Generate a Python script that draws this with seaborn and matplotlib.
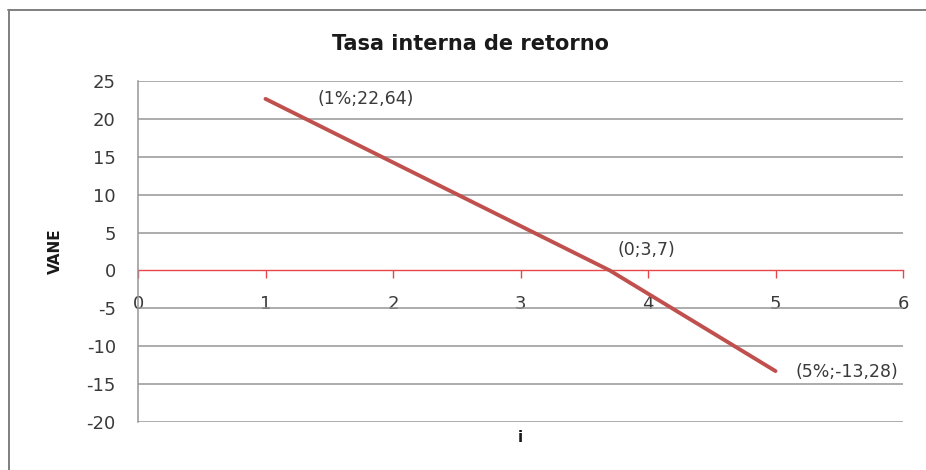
import matplotlib
matplotlib.use("Agg")
import matplotlib.pyplot as plt
from matplotlib.lines import Line2D
import seaborn as sns
import pandas as pd

# Tasa de interés (%) y valor actual neto (VANE)
tasas = [1, 3.7, 5]
vane = [22.64, 0, -13.28]
etiquetas = ["(1%;22,64)", "(0;3,7)", "(5%;-13,28)"]
x_ticks = [0, 1, 2, 3, 4, 5, 6]
y_ticks = [-20, -15, -10, -5, 0, 5, 10, 15, 20, 25]

df = pd.DataFrame({"i": tasas, "VANE": vane})

sns.set_theme(style="white")
plt.rcParams["font.family"] = ["DejaVu Sans"]

fig = plt.figure(figsize=(9.26, 4.70), dpi=100)
ax = fig.add_axes([138 / 926, 1 - 422 / 470, (903 - 138) / 926, (422 - 81) / 470])

grid_c = "#969696"
text_c = "#3a3a3a"
for yv in y_ticks:
    if yv != 0:
        ax.axhline(yv, color=grid_c, lw=1.1, zorder=1)

sns.lineplot(data=df, x="i", y="VANE", ax=ax, color="#C0504D", lw=2.8,
             zorder=3, sort=False)

ax.set_xlim(0, 6)
ax.set_ylim(-20, 25)
ax.set_xticks(x_ticks)
ax.set_yticks(y_ticks)
ax.set_xticklabels([str(v) for v in x_ticks])
ax.set_yticklabels([str(v) for v in y_ticks])

for s in ["top", "right"]:
    ax.spines[s].set_visible(False)
ax.spines["left"].set_color(grid_c)
ax.spines["left"].set_linewidth(1.1)
ax.spines["bottom"].set_position(("data", 0))
ax.spines["bottom"].set_color("#E8474A")
ax.spines["bottom"].set_linewidth(1.0)
ax.spines["bottom"].set_zorder(2)

ax.tick_params(axis="x", bottom=True, direction="out", length=6, width=1.0,
               color="#E8474A", pad=11.5, labelsize=13, labelcolor=text_c)
ax.tick_params(axis="y", left=False, length=0, pad=16, labelsize=13,
               labelcolor=text_c)

ax.set_xlabel("")
ax.set_ylabel("")
fig.text(520 / 926, 1 - 438 / 470, "i", ha="center", va="center",
         fontsize=11, fontweight="bold", color="#1a1a1a")
fig.text(55 / 926, 1 - 251 / 470, "VANE", ha="center", va="center",
         rotation=90, fontsize=11, fontweight="bold", color="#1a1a1a")
fig.text(470 / 926, 1 - 44 / 470, "Tasa interna de retorno", ha="center",
         va="center", fontsize=15, fontweight="bold", color="#1a1a1a")

offsets = [(52, 0), (8, 20), (20, -1)]
for xv, yv, txt, off in zip(tasas, vane, etiquetas, offsets):
    ax.annotate(txt, (xv, yv), xytext=off, textcoords="offset pixels",
                ha="left", va="center", fontsize=12.5, color=text_c,
                annotation_clip=False)

# Chart frame edges
fig.add_artist(Line2D([8 / 926, 1], [1 - 9.5 / 470, 1 - 9.5 / 470],
                      transform=fig.transFigure, color="#7f7f7f", lw=1.4))
fig.add_artist(Line2D([8.5 / 926, 8.5 / 926], [0, 1 - 9.5 / 470],
                      transform=fig.transFigure, color="#7f7f7f", lw=1.4))

fig.savefig("out.png", dpi=100, facecolor="white")
